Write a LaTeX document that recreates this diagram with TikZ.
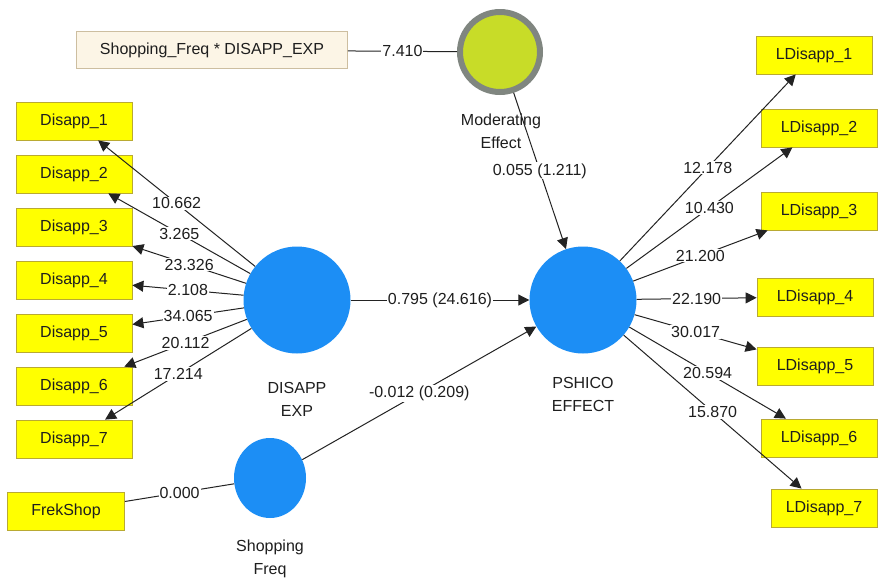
\documentclass[tikz,border=0pt]{standalone}
\usepackage{fontspec}
\setmainfont{Liberation Sans}
\usetikzlibrary{arrows.meta,shapes.geometric}
\definecolor{boxyellow}{RGB}{255,255,0}
\definecolor{boxborder}{RGB}{185,170,50}
\definecolor{lvblue}{RGB}{28,142,245}
\definecolor{modgreen}{RGB}{200,220,40}
\definecolor{modgray}{RGB}{128,134,128}
\definecolor{beige}{RGB}{252,245,230}
\definecolor{beigeborder}{RGB}{205,190,160}
\definecolor{txt}{RGB}{30,30,30}
\definecolor{linec}{RGB}{35,35,35}
\begin{document}
\begin{tikzpicture}[x=1pt,y=-1pt,
  every node/.style={text=txt},
  font=\fontsize{16}{18}\selectfont,
  indbox/.style={draw=boxborder, fill=boxyellow, minimum width=116pt, minimum height=38pt, inner sep=0pt, line width=0.8pt},
  latent/.style={circle, fill=lvblue, minimum size=107pt, inner sep=0pt},
  lbl/.style={align=center, font=\fontsize{16}{23}\selectfont},
  conn/.style={draw=linec, line width=1pt},
  arr/.style={conn, -{Triangle[length=11pt,width=11pt]}},
  val/.style={fill=white, inner sep=1pt, midway, font=\fontsize{16}{18}\selectfont}
]
\useasboundingbox (0,0) rectangle (878,582);
\fill[white] (0,0) rectangle (878,582);

% latent variables
\node[latent] (DE) at (297,300) {};
\node[latent] (PS) at (583,300) {};
\node[ellipse, fill=lvblue, minimum width=72pt, minimum height=80pt, inner sep=0pt] (SF) at (270,478) {};
\node[circle, fill=modgreen, draw=modgray, line width=6pt, minimum size=80pt, inner sep=0pt] (ME) at (500,52) {};

% latent labels
\node[lbl] (DEl) at (297,399) {DISAPP\\EXP};
\node[lbl] (PSl) at (583,394) {PSHICO\\EFFECT};
\node[lbl] (SFl) at (270,559) {Shopping\\Freq};
\node[lbl] (MEl) at (501,131) {Moderating\\Effect};

% indicators left
\node[indbox] (D1) at (74,121) {Disapp\_1};
\node[indbox] (D2) at (74,174) {Disapp\_2};
\node[indbox] (D3) at (74,227) {Disapp\_3};
\node[indbox] (D4) at (74,280) {Disapp\_4};
\node[indbox] (D5) at (74,333) {Disapp\_5};
\node[indbox] (D6) at (74,386) {Disapp\_6};
\node[indbox] (D7) at (74,439) {Disapp\_7};
\node[indbox, minimum width=117pt] (FS) at (66,511) {FrekShop};

% indicators right
\node[indbox] (L1) at (814,55) {LDisapp\_1};
\node[indbox] (L2) at (819,128) {LDisapp\_2};
\node[indbox] (L3) at (819,211) {LDisapp\_3};
\node[indbox] (L4) at (815,297) {LDisapp\_4};
\node[indbox] (L5) at (815,366) {LDisapp\_5};
\node[indbox] (L6) at (819,438) {LDisapp\_6};
\node[indbox, minimum width=106pt] (L7) at (824,508) {LDisapp\_7};

% interaction term
\node[draw=beigeborder, fill=beige, minimum width=271pt, minimum height=37pt, inner sep=0pt, line width=0.8pt] (IT) at (212,50) {Shopping\_Freq * DISAPP\_EXP};

% connectors
\draw[conn] (IT) -- node[val] {7.410} (ME);
\draw[conn] (FS) -- node[val] {0.000} (SF);

\draw[arr] (DE) -- node[val] {10.662} (D1);
\draw[arr] (DE) -- node[val] {3.265} (D2);
\draw[arr] (DE) -- node[val] {23.326} (D3);
\draw[arr] (DE) -- node[val] {2.108} (D4);
\draw[arr] (DE) -- node[val] {34.065} (D5);
\draw[arr] (DE) -- node[val] {20.112} (D6);
\draw[arr] (DE) -- node[val] {17.214} (D7);

\draw[arr] (PS) -- node[val] {12.178} (L1);
\draw[arr] (PS) -- node[val] {10.430} (L2);
\draw[arr] (PS) -- node[val] {21.200} (L3);
\draw[arr] (PS) -- node[val] {22.190} (L4);
\draw[arr] (PS) -- node[val] {30.017} (L5);
\draw[arr] (PS) -- node[val] {20.594} (L6);
\draw[arr] (PS) -- node[val] {15.870} (L7);

\draw[arr] (DE) -- node[val] {0.795 (24.616)} (PS);
\draw[arr] (SF) -- node[val] {-0.012 (0.209)} (PS);
\draw[arr] (ME) -- node[val] {0.055 (1.211)} (PS);
\end{tikzpicture}
\end{document}
